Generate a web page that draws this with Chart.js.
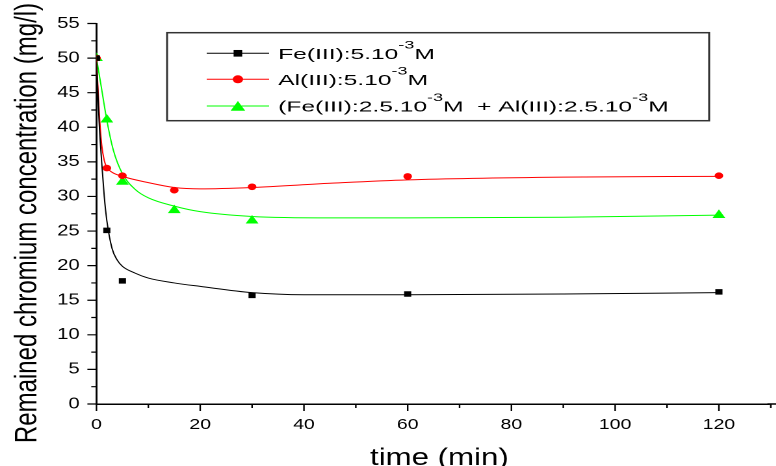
<!DOCTYPE html>
<html>
<head>
<meta charset="utf-8">
<script src="https://cdn.jsdelivr.net/npm/chart.js"></script>
<style>
  html, body { margin: 0; padding: 0; background: #fff; overflow: hidden; }
  /* the original figure is stretched sideways, so draw narrow and widen it */
  #wrap { width: 597px; height: 466px; transform: scaleX(1.3); transform-origin: 0 0; }
</style>
</head>
<body>
<div id="wrap"><canvas id="chart" width="597" height="466"></canvas></div>
<script>
// measured points
const feTime  = [0, 2, 5, 30, 60, 120];
const feConc  = [50, 25.1, 17.8, 15.7, 15.9, 16.2];
const alTime  = [0, 2, 5, 15, 30, 60, 120];
const alConc  = [50, 34.1, 33.0, 30.9, 31.4, 32.9, 33.0];
const mixTime = [0, 2, 5, 15, 30, 120];
const mixConc = [50, 41.1, 32.1, 28.0, 26.5, 27.3];

// fitted curves
const feFitTime  = [0, 0.5, 1, 1.5, 2, 3, 4, 5, 7.5, 10, 15, 20, 30, 40, 60, 90, 120];
const feFitConc  = [50, 41, 35, 30, 26.5, 22.5, 20.8, 19.9, 18.9, 18.2, 17.5, 17.0, 16.1, 15.8, 15.8, 15.9, 16.1];
const alFitTime  = [0, 0.5, 1, 1.5, 2, 3, 5, 10, 15, 20, 30, 45, 60, 90, 120];
const alFitConc  = [50, 42.5, 37.5, 35.2, 34.2, 33.5, 32.9, 32.0, 31.3, 31.1, 31.3, 31.9, 32.4, 32.8, 32.9];
const mixFitTime = [0, 1, 2, 3.25, 5, 7.5, 10, 15, 20, 30, 45, 60, 90, 120];
const mixFitConc = [50, 45.5, 41, 36.7, 33.3, 31, 29.8, 28.6, 27.8, 27.1, 26.9, 26.9, 27.0, 27.3];

const xTicks = [0, 20, 40, 60, 80, 100, 120];
const yTicks = [0, 5, 10, 15, 20, 25, 30, 35, 40, 45, 50, 55];

const series = [
  { label: 'Fe(III):5.10', tail: 'M', color: '#000000', style: 'rect' },
  { label: 'Al(III):5.10', tail: 'M', color: '#ff0000', style: 'circle' },
  { label: '(Fe(III):2.5.10', tail: 'M  + Al(III):2.5.10', tail2: 'M', color: '#00ff00', style: 'triangle' }
];

const pts = (xs, ys) => xs.map((x, i) => ({ x, y: ys[i] }));

function marker(ctx, style, x, y, r){
  ctx.beginPath();
  if (style === 'rect') { const s = r * Math.SQRT1_2; ctx.rect(x - s, y - s, 2 * s, 2 * s); }
  else if (style === 'circle') { ctx.arc(x, y, r, 0, Math.PI * 2); }
  else {
    for (let k = 0; k < 3; k++) {
      const a = k * 2 * Math.PI / 3;
      const px = x + Math.sin(a) * r, py = y - Math.cos(a) * r;
      k ? ctx.lineTo(px, py) : ctx.moveTo(px, py);
    }
    ctx.closePath();
  }
  ctx.fill();
}

// minor/major tick marks, axis titles, boxed legend
const extras = {
  id: 'extras',
  afterDraw(chart){
    const { ctx, chartArea: a, scales: { x, y } } = chart;
    ctx.save();
    // x axis runs on to the edge of the figure
    ctx.strokeStyle = '#000'; ctx.lineWidth = 1.5;
    ctx.beginPath(); ctx.moveTo(a.right - 1, a.bottom); ctx.lineTo(chart.width, a.bottom); ctx.stroke();

    ctx.lineWidth = 1.2;
    ctx.beginPath();
    for (let v = 0; v <= 55; v += 2.5) {
      const py = y.getPixelForValue(v), len = v % 5 === 0 ? 7 : 4;
      ctx.moveTo(a.left - len, py); ctx.lineTo(a.left, py);
    }
    for (let v = 0; v <= 130; v += 10) {
      const px = x.getPixelForValue(v), len = v % 20 === 0 ? 7 : 4;
      ctx.moveTo(px, a.bottom); ctx.lineTo(px, a.bottom + len);
    }
    ctx.stroke();

    // axis titles
    ctx.fillStyle = '#000';
    ctx.font = '24px Arial, "Liberation Sans", sans-serif';
    ctx.textAlign = 'center'; ctx.textBaseline = 'alphabetic';
    ctx.fillText('time (min)', 338, 465);
    ctx.save();
    ctx.translate(28, 223); ctx.rotate(-Math.PI / 2);
    ctx.fillText('Remained chromium concentration (mg/l)', 0, 0);
    ctx.restore();

    // legend
    ctx.strokeStyle = '#333'; ctx.lineWidth = 1.5;
    ctx.strokeRect(128.5, 32.7, 417, 88);
    const rows = [53.3, 79.3, 106];
    const sizes = { rect: 4.7, circle: 4, triangle: 6.5 };
    series.forEach((s, i) => {
      const ry = rows[i];
      ctx.strokeStyle = s.color; ctx.fillStyle = s.color; ctx.lineWidth = 1;
      ctx.beginPath(); ctx.moveTo(159, ry); ctx.lineTo(207, ry); ctx.stroke();
      marker(ctx, s.style, 183, ry + (s.style === 'triangle' ? 1.5 : 0), sizes[s.style]);
      // text is wider than the rest of the figure
      ctx.save();
      ctx.translate(214, ry + 5.6); ctx.scale(1.26, 1);
      ctx.fillStyle = '#000'; ctx.textAlign = 'left';
      let cx = 0;
      const big = '15px Arial, "Liberation Sans", sans-serif';
      const sup = '11px Arial, "Liberation Sans", sans-serif';
      const put = (t, f, dy) => { ctx.font = f; ctx.fillText(t, cx, dy); cx += ctx.measureText(t).width; };
      put(s.label, big, 0); put('-3', sup, -10.5); put(s.tail, big, 0);
      if (s.tail2) { put('-3', sup, -10.5); put(s.tail2, big, 0); }
      ctx.restore();
    });
    ctx.restore();
  }
};

const fit = (xs, ys, color) => ({
  type: 'line', data: pts(xs, ys), borderColor: color, borderWidth: 1,
  pointRadius: 0, cubicInterpolationMode: 'monotone', fill: false, order: 2
});
const dots = (xs, ys, color, style, r) => ({
  type: 'scatter', data: pts(xs, ys), backgroundColor: color, borderColor: color,
  borderWidth: 0, pointStyle: style, pointRadius: r, showLine: false, order: 1
});

new Chart(document.getElementById('chart'), {
  data: {
    datasets: [
      fit(feFitTime, feFitConc, '#000000'),
      fit(alFitTime, alFitConc, '#ff0000'),
      fit(mixFitTime, mixFitConc, '#00ff00'),
      dots(feTime, feConc, '#000000', 'rect', 3.9),
      dots(alTime, alConc, '#ff0000', 'circle', 3.3),
      dots(mixTime, mixConc, '#00ff00', 'triangle', 5.7)
    ]
  },
  options: {
    responsive: false,
    devicePixelRatio: 2,
    animation: false,
    layout: { padding: { top: 23.5, left: 0, right: 0, bottom: 0 } },
    plugins: { legend: { display: false }, tooltip: { enabled: false } },
    scales: {
      x: {
        type: 'linear', min: 0, max: 129.6,
        afterFit: s => { s.height = 62; },
        afterBuildTicks: s => { s.ticks = xTicks.map(v => ({ value: v })); },
        grid: { display: false, drawTicks: false },
        border: { display: true, color: '#000', width: 1.5 },
        ticks: { padding: 12, maxRotation: 0, autoSkip: false, color: '#000',
                 font: { family: 'Arial, "Liberation Sans", sans-serif', size: 15 } }
      },
      y: {
        type: 'linear', min: 0, max: 55,
        afterFit: s => { s.width = 74.2; },
        afterBuildTicks: s => { s.ticks = yTicks.map(v => ({ value: v })); },
        grid: { display: false, drawTicks: false },
        border: { display: true, color: '#000', width: 1.5 },
        ticks: { padding: 13, autoSkip: false, color: '#000',
                 font: { family: 'Arial, "Liberation Sans", sans-serif', size: 15.5 } }
      }
    }
  },
  plugins: [extras]
});
</script>
</body>
</html>
